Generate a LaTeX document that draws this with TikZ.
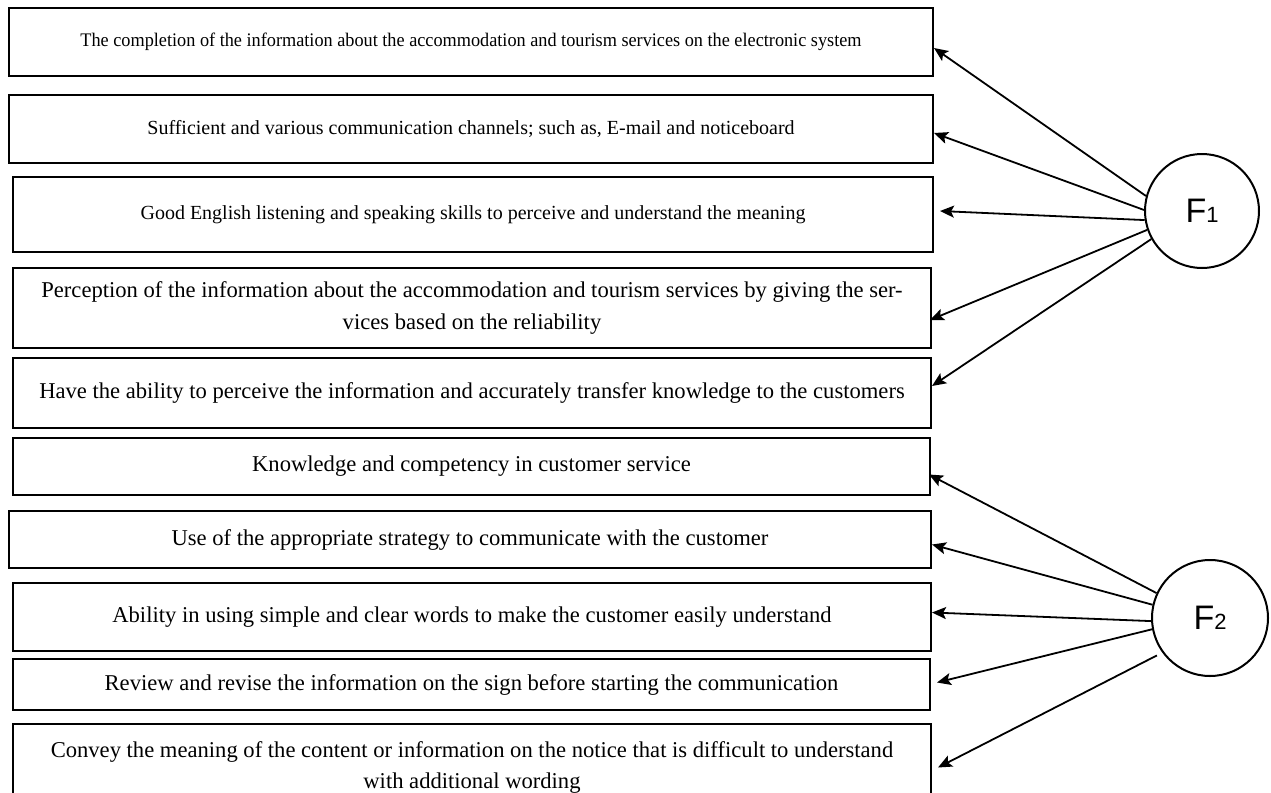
\documentclass[tikz,border=0pt]{standalone}
\usepackage{fontspec}
\setmainfont{Liberation Serif}
\newfontfamily\narrowserif[FakeStretch=0.95]{Liberation Serif}
\newfontfamily\labelsans{Liberation Sans}
\usetikzlibrary{arrows.meta}
\tikzset{
  itembox/.style={draw, line width=1pt, rectangle, inner sep=2pt, align=center},
  factor/.style={draw, line width=1pt, circle, inner sep=0pt, font=\labelsans},
  arr/.style={-{Stealth[length=7pt, width=6pt, inset=1.5pt]}, line width=0.9pt}
}
\newcommand{\smalltext}{\fontsize{10}{12}\selectfont}
\newcommand{\itemtext}{\fontsize{11.3}{15.5}\selectfont}
\begin{document}
\begin{tikzpicture}[x=0.5pt, y=-0.5pt]
        \useasboundingbox (0,0) rectangle (1271,793);
        % indicators of F1
        \node[itembox, minimum width=462pt, minimum height=34pt, font=\narrowserif\fontsize{9.6}{11.5}\selectfont] (b1) at (471,42) {The completion of the information about the accommodation and tourism services on the electronic system};
        \node[itembox, minimum width=462pt, minimum height=34pt, font=\smalltext] (b2) at (471,129) {Sufficient and various communication channels; such as, E-mail and noticeboard};
        \node[itembox, minimum width=460pt, minimum height=37.5pt, font=\smalltext] (b3) at (473,214.5) {Good English listening and speaking skills to perceive and understand the meaning};
        \node[itembox, minimum width=459pt, minimum height=40pt, font=\fontsize{11.3}{16}\selectfont] (b4) at (472,308) {Perception of the information about the accommodation and tourism services by giving the ser-\\vices based on the reliability};
        \node[itembox, minimum width=459pt, minimum height=35pt, font=\itemtext] (b5) at (472,393) {Have the ability to perceive the information and accurately transfer knowledge to the customers};
        % indicators of F2
        \node[itembox, minimum width=458.5pt, minimum height=28.5pt, font=\itemtext] (b6) at (471.5,466.5) {Knowledge and competency in customer service};
        \node[itembox, minimum width=461pt, minimum height=28.5pt, font=\itemtext] (b7) at (470,539.5) {Use of the appropriate strategy to communicate with the customer};
        \node[itembox, minimum width=459pt, minimum height=34pt, font=\itemtext] (b8) at (472,617) {Ability in using simple and clear words to make the customer easily understand};
        \node[itembox, minimum width=458.5pt, minimum height=25.5pt, font=\itemtext] (b9) at (471.5,684.5) {Review and revise the information on the sign before starting the communication};
        \node[itembox, minimum width=459pt, minimum height=43.5pt, font=\fontsize{11.3}{15.5}\selectfont] (b10) at (472,767.5) {Convey the meaning of the content or information on the notice that is difficult to understand\\with additional wording};
        % factors
        \node[factor, minimum size=57pt] (f1) at (1202,211) {{\fontsize{17}{17}\selectfont F}{\fontsize{11}{11}\selectfont 1}};
        \node[factor, minimum size=58pt] (f2) at (1210,618) {{\fontsize{17}{17}\selectfont F}{\fontsize{11}{11}\selectfont 2}};
        % loadings
        \foreach \b/\a/\dx/\dy/\gap in {b1/165/0/-3/0, b2/179/0/-2/0, b3/189/3/1.75/0, b4/199/-1/-6/0, b5/209/0/3.5/0} {
            \draw[arr, shorten <=\gap pt] (f1.\a) -- ([xshift=\dx pt, yshift=\dy pt]\b.east);
        }
        \foreach \b/\a/\dx/\dy/\gap in {b6/155/-1/-4/0, b7/167/0/-2.5/0, b8/183/0/2.25/0, b9/191/3/1/0, b10/216/3/0/3} {
            \draw[arr, shorten <=\gap pt] (f2.\a) -- ([xshift=\dx pt, yshift=\dy pt]\b.east);
        }
\end{tikzpicture}
\end{document}
